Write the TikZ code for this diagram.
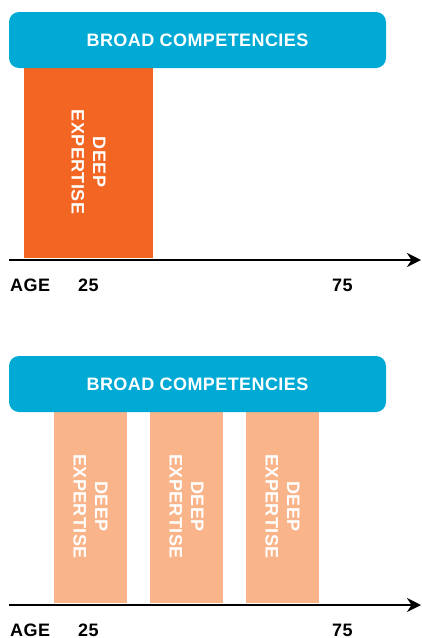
\documentclass[tikz,border=0pt]{standalone}
\usepackage{fontspec}
\setmainfont{Liberation Sans}[LetterSpace=2.3]
\usetikzlibrary{arrows.meta}
\definecolor{compblue}{RGB}{0,170,213}
\definecolor{deeporange}{RGB}{242,101,34}
\definecolor{lightorange}{RGB}{249,180,137}
\tikzset{
  bluebox/.style={fill=compblue, rounded corners=10pt, minimum width=377pt, minimum height=56pt,
    text=white, font=\fontsize{18}{21.5}\selectfont\bfseries, inner sep=0pt},
  barnode/.style={rotate=-90, text=white, align=center, inner sep=0pt,
    font=\fontsize{18}{21.5}\selectfont\bfseries},
  axisline/.style={line width=2.2pt, -{Stealth[length=14pt,width=14pt]}},
  agelabel/.style={anchor=base west, inner sep=0pt, font=\fontsize{18}{21.5}\selectfont\bfseries}
}
\begin{document}
\begin{tikzpicture}[x=1pt,y=-1pt]
\useasboundingbox (0,0) rectangle (422,638);
% ---------- top panel ----------
\node[barnode, fill=deeporange, minimum width=192pt, minimum height=129pt] (d1) at (88.5,162) {DEEP\\EXPERTISE};
\node[bluebox] (b1) at (197.5,40) {BROAD COMPETENCIES};
\coordinate (a1s) at (9,260);
\coordinate (a1e) at (421,260);
\draw[axisline] (a1s) -- (a1e);
\node[agelabel] (age1) at (10,291) {AGE};
\node[agelabel] (y25a) at (78,291) {25};
\node[agelabel] (y75a) at (332,291) {75};
% ---------- bottom panel ----------
\node[barnode, fill=lightorange, minimum width=193pt, minimum height=73pt] (e1) at (90.5,506.5) {DEEP\\EXPERTISE};
\node[barnode, fill=lightorange, minimum width=193pt, minimum height=73pt] (e2) at (186.5,506.5) {DEEP\\EXPERTISE};
\node[barnode, fill=lightorange, minimum width=193pt, minimum height=73pt] (e3) at (282.5,506.5) {DEEP\\EXPERTISE};
\node[bluebox] (b2) at (197.5,384) {BROAD COMPETENCIES};
\coordinate (a2s) at (9,605);
\coordinate (a2e) at (421,605);
\draw[axisline] (a2s) -- (a2e);
\node[agelabel] (age2) at (10,636) {AGE};
\node[agelabel] (y25b) at (78,636) {25};
\node[agelabel] (y75b) at (332,636) {75};
\end{tikzpicture}
\end{document}
